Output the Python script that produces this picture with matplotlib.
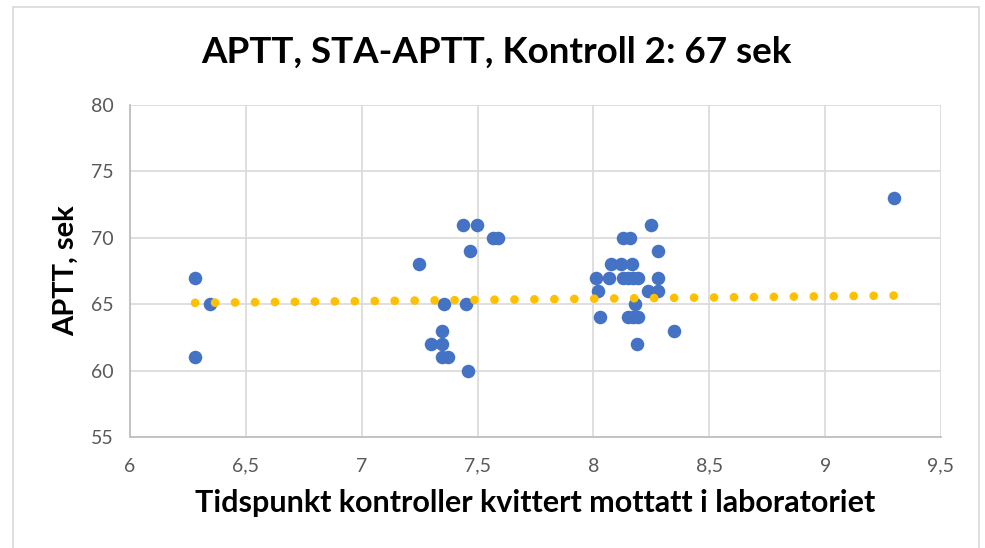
import matplotlib
matplotlib.use("Agg")
import matplotlib.pyplot as plt
import numpy as np
from matplotlib.patches import Rectangle

x_vals = [6.281, 6.281, 6.345,
          7.439, 7.499, 7.568, 7.590, 7.467, 7.249, 7.356, 7.449, 7.348,
          7.298, 7.348, 7.345, 7.371, 7.457,
          8.249, 8.129, 8.158, 8.278, 8.076, 8.119, 8.168,
          8.010, 8.069, 8.129, 8.151, 8.172, 8.194, 8.278,
          8.019, 8.237, 8.280, 8.179,
          8.029, 8.148, 8.172, 8.191, 8.349, 8.190,
          9.297]
y_vals = [67, 61, 65,
          71, 71, 70, 70, 69, 68, 65, 65, 63,
          62, 62, 61, 61, 60,
          71, 70, 70, 69, 68, 68, 68,
          67, 67, 67, 67, 67, 67, 67,
          66, 66, 66, 65,
          64, 64, 64, 64, 63, 62,
          73]

# trendline endpoints
trend_x = [6.281, 9.297]
trend_y = [65.10, 65.65]

title = "APTT, STA-APTT, Kontroll 2: 67 sek"
xlabel = "Tidspunkt kontroller kvittert mottatt i laboratoriet"
ylabel = "APTT, sek"
x_ticks = [6, 6.5, 7, 7.5, 8, 8.5, 9, 9.5]
x_ticklabels = ["6", "6,5", "7", "7,5", "8", "8,5", "9", "9,5"]
y_ticks = [55, 60, 65, 70, 75, 80]

plt.rcParams['font.family'] = ['Lato', 'DejaVu Sans']

W, H = 985, 548
fig = plt.figure(figsize=(W / 100, H / 100), dpi=100)
ax = fig.add_axes([130 / W, 1 - 437 / H, (941 - 130) / W, (437 - 105) / H])

# outer chart border
fig.patches.append(Rectangle((13 / W, -0.01), (979 - 13) / W, 1 - 7 / H + 0.01,
                             transform=fig.transFigure, fill=False,
                             edgecolor="#D9D9D9", linewidth=1.2))

ax.scatter(x_vals, y_vals, s=95, color="#4472C4", zorder=3, linewidths=0)

ax.plot(trend_x, trend_y, color="#FFC000", linewidth=6.3,
        linestyle=(0, (0.001, 2.28)), dash_capstyle="round", zorder=4)

ax.set_xlim(6, 9.5)
ax.set_ylim(55, 80)
ax.set_xticks(x_ticks)
ax.set_xticklabels(x_ticklabels)
ax.set_yticks(y_ticks)
ax.grid(True, color="#D9D9D9", linewidth=1.2, zorder=0)
ax.set_axisbelow(True)
for side in ["top", "right"]:
    ax.spines[side].set_visible(False)
for side in ["left", "bottom"]:
    ax.spines[side].set_color("#BFBFBF")
    ax.spines[side].set_linewidth(1.3)
ax.tick_params(length=0, labelsize=14, colors="#595959", pad=15)
ax.tick_params(axis="y", pad=12)

ax.set_xlabel(xlabel, fontsize=22, fontweight="bold", color="black", labelpad=10)
ax.set_ylabel(ylabel, fontsize=21, fontweight="bold", color="black", labelpad=8)
fig.text(496 / W, 1 - 52 / H, title, fontsize=26.5, fontweight="bold",
         ha="center", va="center", color="black")

fig.savefig("out.png", dpi=100)
